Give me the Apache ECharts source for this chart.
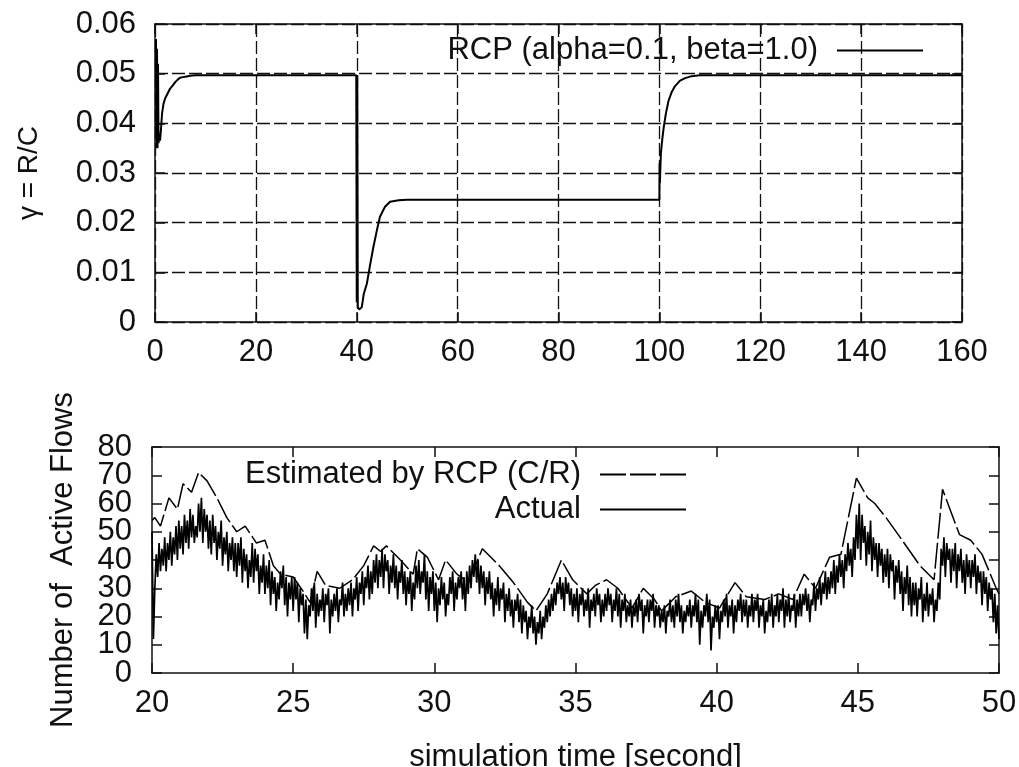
<!DOCTYPE html>
<html>
<head>
<meta charset="utf-8">
<script src="https://cdn.jsdelivr.net/npm/echarts@6/dist/echarts.min.js"></script>
<style>
html,body{margin:0;padding:0;background:#fff;}
#chart{width:1019px;height:767px;}
</style>
</head>
<body>
<div id="chart"></div>
<script>
// ---------- Top panel: gamma = R/C over time ----------
const topXTicks = [0, 20, 40, 60, 80, 100, 120, 140, 160];
const topYTicks = [0, 0.01, 0.02, 0.03, 0.04, 0.05, 0.06];
const rcpName = 'RCP (alpha=0.1, beta=1.0)';
const rcpGamma = [
  [0.2, 0.057], [0.3, 0.035], [0.4, 0.055], [0.5, 0.035], [0.6, 0.052], [0.7, 0.036],
  [0.9, 0.038], [1.0, 0.0365], [1.2, 0.039], [1.4, 0.042], [1.7, 0.044], [2.0, 0.045],
  [2.5, 0.046], [3.0, 0.047], [3.5, 0.0476], [4.0, 0.0483], [4.5, 0.0488], [5.0, 0.0492],
  [6.0, 0.0494], [7.0, 0.0496], [8.0, 0.0497], [20, 0.0497], [39.9, 0.0497],
  [40.0, 0.004], [40.1, 0.0497], [40.2, 0.003], [40.5, 0.0025], [41.0, 0.003],
  [41.4, 0.0057], [42.0, 0.0077], [42.7, 0.0118], [43.3, 0.0151], [44.0, 0.0185],
  [44.6, 0.0212], [45.6, 0.0232], [46.6, 0.0242], [48.3, 0.0245], [50, 0.0246],
  [100.0, 0.0246], [100.05, 0.032], [100.1, 0.028], [100.3, 0.034], [100.6, 0.037],
  [100.9, 0.0395], [101.3, 0.042], [101.8, 0.0445], [102.4, 0.0462], [103.1, 0.0475],
  [104.1, 0.0486], [105.1, 0.0491], [106.4, 0.0495], [108.0, 0.0497], [160, 0.0497]
];

// ---------- Bottom panel: number of active flows ----------
const botXTicks = [20, 25, 30, 35, 40, 45, 50];
const botYTicks = [0, 10, 20, 30, 40, 50, 60, 70, 80];
const estName = 'Estimated by RCP (C/R)';
const actName = 'Actual';
const estimatedFlows = [
  [20.0, 54], [20.1, 55], [20.3, 52], [20.6, 62], [20.9, 58], [21.1, 67], [21.4, 64],
  [21.65, 71], [21.95, 68], [22.3, 62], [22.65, 55], [23.0, 50], [23.3, 52], [23.7, 46],
  [24.0, 47], [24.3, 38], [24.55, 35], [25.0, 34], [25.35, 29], [25.6, 25], [25.85, 36],
  [26.15, 31], [26.65, 30], [27.1, 33], [27.5, 38], [27.85, 45], [28.1, 43], [28.3, 45],
  [28.8, 40], [29.25, 35], [29.4, 44], [29.75, 41], [30.15, 33], [30.4, 40], [30.8, 35],
  [31.2, 32], [31.7, 44], [32.3, 38], [32.8, 32], [33.3, 25], [33.6, 22], [34.0, 28],
  [34.5, 40], [34.9, 33], [35.4, 28], [35.7, 31], [36.1, 33], [36.5, 30], [37.0, 23],
  [37.4, 30], [37.8, 26], [38.05, 22], [38.55, 27], [39.1, 29], [39.6, 25], [40.1, 23],
  [40.65, 32], [41.05, 27], [41.7, 26], [42.2, 28], [42.7, 26], [43.1, 35], [43.5, 30],
  [44.0, 41], [44.4, 42], [44.95, 69], [45.35, 62], [45.6, 60], [46.0, 55], [46.5, 48],
  [47.2, 38], [47.7, 33], [48.0, 65], [48.6, 49], [49.0, 47], [49.4, 42], [49.9, 30], [50.0, 28]
];
// actual flows sampled every 0.05 s starting at 20 s (one row per second)
const actualStart = 20;
const actualStep = 0.05;
const actualFlows = [
  50, 12, 30, 42, 34, 46, 36, 44, 38, 48, 36, 46, 40, 50, 38, 48, 42, 52, 40, 54,
  44, 52, 42, 56, 46, 54, 44, 58, 48, 56, 46, 52, 48, 60, 50, 62, 46, 58, 50, 56,
  44, 54, 42, 56, 46, 52, 40, 50, 44, 54, 38, 48, 42, 50, 36, 46, 40, 48, 36, 46,
  34, 46, 38, 48, 32, 44, 36, 42, 30, 40, 34, 46, 32, 44, 36, 42, 28, 38, 32, 42,
  28, 38, 30, 40, 24, 36, 28, 34, 22, 32, 26, 36, 30, 38, 24, 34, 20, 32, 26, 34,
  22, 34, 26, 32, 18, 30, 24, 28, 14, 26, 12, 24, 20, 30, 22, 32, 16, 28, 20, 26,
  22, 30, 18, 28, 24, 30, 14, 26, 20, 28, 22, 30, 18, 26, 24, 32, 20, 28, 22, 30,
  24, 32, 20, 30, 26, 34, 22, 32, 28, 36, 24, 34, 30, 38, 26, 36, 28, 40, 32, 42,
  30, 40, 34, 44, 30, 42, 36, 40, 28, 38, 32, 42, 30, 38, 26, 36, 32, 40, 28, 36,
  24, 34, 28, 36, 22, 32, 26, 38, 30, 40, 28, 36, 32, 42, 26, 36, 22, 34, 28, 36,
  22, 32, 18, 30, 24, 34, 26, 32, 20, 28, 24, 34, 28, 36, 22, 32, 26, 34, 30, 36,
  26, 34, 22, 36, 28, 38, 30, 40, 34, 42, 32, 40, 28, 38, 30, 36, 24, 34, 28, 36,
  26, 32, 20, 30, 24, 34, 22, 30, 26, 32, 18, 28, 22, 30, 20, 26, 16, 26, 22, 28,
  18, 26, 14, 24, 18, 22, 12, 20, 16, 24, 14, 20, 10, 18, 14, 22, 12, 20, 16, 24,
  18, 26, 20, 28, 22, 30, 24, 32, 28, 34, 26, 32, 22, 34, 28, 32, 24, 30, 20, 28,
  22, 30, 18, 28, 24, 30, 20, 26, 22, 30, 16, 26, 22, 28, 20, 30, 24, 28, 18, 26,
  20, 28, 22, 30, 24, 28, 18, 26, 22, 30, 20, 28, 16, 26, 22, 28, 18, 24, 20, 26,
  16, 24, 20, 26, 18, 28, 22, 26, 14, 24, 20, 26, 18, 26, 22, 28, 16, 24, 20, 24,
  16, 22, 18, 24, 14, 22, 20, 26, 18, 24, 16, 26, 20, 28, 18, 24, 14, 22, 18, 24,
  20, 26, 16, 24, 20, 28, 18, 26, 10, 22, 16, 24, 20, 28, 18, 26, 8, 20, 16, 24,
  18, 24, 12, 22, 18, 26, 20, 28, 16, 24, 20, 26, 14, 24, 18, 26, 22, 28, 18, 26,
  20, 26, 16, 24, 20, 28, 18, 26, 22, 28, 16, 24, 20, 26, 14, 22, 18, 26, 20, 28,
  16, 24, 20, 28, 18, 26, 22, 30, 16, 26, 20, 28, 18, 24, 22, 28, 16, 26, 20, 28,
  20, 28, 24, 30, 22, 28, 18, 26, 24, 32, 22, 30, 26, 34, 24, 32, 28, 36, 26, 34,
  28, 36, 30, 40, 28, 38, 32, 42, 34, 40, 30, 42, 36, 46, 38, 44, 34, 48, 40, 56,
  44, 60, 40, 56, 46, 52, 38, 50, 42, 54, 36, 48, 40, 46, 34, 46, 38, 44, 32, 42,
  34, 44, 30, 42, 36, 40, 26, 38, 32, 40, 28, 36, 22, 34, 28, 38, 24, 34, 20, 32,
  24, 32, 20, 30, 26, 34, 18, 28, 22, 32, 20, 28, 24, 30, 18, 26, 22, 32, 26, 44,
  38, 48, 34, 46, 40, 44, 32, 44, 36, 46, 30, 42, 36, 44, 32, 40, 28, 42, 34, 40,
  30, 40, 34, 42, 28, 38, 32, 36, 24, 36, 28, 34, 22, 32, 26, 30, 18, 28, 14, 24,
  12
];
const actualSeries = actualFlows.map((v, i) => [+(actualStart + i * actualStep).toFixed(3), v]);

const FONT = 'Liberation Sans, Arial, Helvetica, sans-serif';
const INK = '#111';
const labelStyle = { color: INK, fontFamily: FONT, fontSize: 31 };
const axisLineStyle = { show: true, onZero: false, lineStyle: { color: INK, width: 1.5 } };
const innerTick = { show: true, inside: true, length: 10, lineStyle: { color: INK, width: 1.5 } };
const noLine = { show: false };

function mirrorAxis(grid, ticks, position) {
  return {
    type: 'value', gridIndex: grid, position: position,
    min: ticks[0], max: ticks[ticks.length - 1], interval: ticks[1] - ticks[0],
    axisLine: axisLineStyle, axisTick: innerTick,
    axisLabel: { show: false }, splitLine: { show: false }
  };
}
const gridDash = { color: INK, width: 1.3, type: [13, 4] };
const legendText = Object.assign({ lineHeight: 30, padding: [0, 14, 0, 0] }, labelStyle);

// bottom y labels are tightly packed: even tens on one axis, odd tens on an overlaid one
const botYEven = botYTicks.filter((v, i) => i % 2 === 0);
const botYOdd = botYTicks.filter((v, i) => i % 2 === 1);

const option = {
  animation: false,
  backgroundColor: '#fff',
  grid: [
    { left: 155, right: 57, top: 24, bottom: 445, containLabel: false, outerBoundsMode: 'none' },
    { left: 152, right: 20, top: 447, bottom: 94, containLabel: false, outerBoundsMode: 'none' }
  ],
  legend: [
    {
      data: [rcpName], orient: 'vertical', align: 'right', right: 95, top: 35, padding: 0,
      itemWidth: 86, itemHeight: 14, selectedMode: false,
      itemStyle: { opacity: 0 }, textStyle: legendText
    },
    {
      data: [estName, actName], orient: 'vertical', align: 'right', right: 332, top: 459, padding: 0,
      itemWidth: 86, itemHeight: 14, itemGap: 4, selectedMode: false,
      itemStyle: { opacity: 0 }, textStyle: legendText
    }
  ],
  xAxis: [
    {
      type: 'value', gridIndex: 0, position: 'bottom',
      min: topXTicks[0], max: topXTicks[topXTicks.length - 1], interval: topXTicks[1] - topXTicks[0],
      axisLine: axisLineStyle, axisTick: innerTick,
      axisLabel: Object.assign({ margin: 15, showMinLabel: true, showMaxLabel: true, hideOverlap: false }, labelStyle),
      splitLine: { show: true, lineStyle: gridDash }
    },
    mirrorAxis(0, topXTicks, 'top'),
    {
      type: 'value', gridIndex: 1, position: 'bottom',
      min: botXTicks[0], max: botXTicks[botXTicks.length - 1], interval: botXTicks[1] - botXTicks[0],
      name: 'simulation time [second]', nameLocation: 'middle', nameGap: 69,
      nameTextStyle: labelStyle,
      axisLine: axisLineStyle, axisTick: innerTick,
      axisLabel: Object.assign({ margin: 15, showMinLabel: true, showMaxLabel: true, hideOverlap: false }, labelStyle),
      splitLine: { show: false }
    },
    mirrorAxis(1, botXTicks, 'top')
  ],
  yAxis: [
    {
      type: 'value', gridIndex: 0, position: 'left',
      min: topYTicks[0], max: topYTicks[topYTicks.length - 1], interval: topYTicks[1] - topYTicks[0],
      name: 'γ = R/C', nameLocation: 'middle', nameGap: 112, nameRotate: 90,
      nameTextStyle: Object.assign({}, labelStyle, { fontSize: 28 }),
      axisLine: axisLineStyle, axisTick: innerTick,
      axisLabel: Object.assign({ margin: 19, showMinLabel: true, showMaxLabel: true, hideOverlap: false,
        formatter: v => (Math.round(v * 100) / 100).toString() }, labelStyle),
      splitLine: { show: true, lineStyle: gridDash }
    },
    mirrorAxis(0, topYTicks, 'right'),
    {
      type: 'value', gridIndex: 1, position: 'left',
      min: botYTicks[0], max: botYTicks[botYTicks.length - 1], interval: botYTicks[1] - botYTicks[0],
      name: 'Number of  Active Flows', nameLocation: 'middle', nameGap: 73, nameRotate: 90,
      nameTextStyle: labelStyle,
      axisLine: axisLineStyle, axisTick: innerTick,
      axisLabel: Object.assign({ margin: 20, showMinLabel: true, showMaxLabel: true, hideOverlap: false,
        formatter: v => (botYEven.indexOf(Math.round(v)) >= 0 ? String(Math.round(v)) : '') }, labelStyle),
      splitLine: { show: false }
    },
    mirrorAxis(1, botYTicks, 'right'),
    {
      type: 'value', gridIndex: 1, position: 'left',
      min: botYTicks[0], max: botYTicks[botYTicks.length - 1], interval: botYTicks[1] - botYTicks[0],
      axisLine: noLine, axisTick: noLine,
      axisLabel: Object.assign({ margin: 20, showMinLabel: true, showMaxLabel: true, hideOverlap: false,
        formatter: v => (botYOdd.indexOf(Math.round(v)) >= 0 ? String(Math.round(v)) : '') }, labelStyle),
      splitLine: { show: false }
    }
  ],
  series: [
    {
      name: rcpName, type: 'line', xAxisIndex: 0, yAxisIndex: 0, data: rcpGamma,
      symbol: 'none', lineStyle: { color: '#000', width: 2 }, itemStyle: { color: '#000' }
    },
    {
      name: estName, type: 'line', xAxisIndex: 2, yAxisIndex: 2, data: estimatedFlows,
      symbol: 'none', lineStyle: { color: '#000', width: 1.5, type: [26, 4] }, itemStyle: { color: '#000' }
    },
    {
      name: actName, type: 'line', xAxisIndex: 2, yAxisIndex: 2, data: actualSeries,
      symbol: 'none', lineStyle: { color: '#000', width: 1.7 }, itemStyle: { color: '#000' }
    }
  ]
};

const chart = echarts.init(document.getElementById('chart'), null, { renderer: 'canvas' });
chart.setOption(option);
</script>
</body>
</html>
